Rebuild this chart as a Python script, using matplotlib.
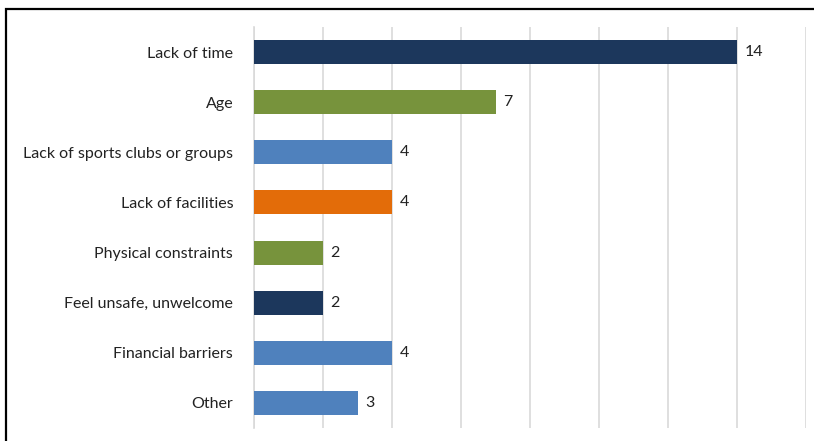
import matplotlib
matplotlib.use("Agg")
import matplotlib.pyplot as plt
from matplotlib.patches import Rectangle

categories = [
    "Lack of time",
    "Age",
    "Lack of sports clubs or groups",
    "Lack of facilities",
    "Physical constraints",
    "Feel unsafe, unwelcome",
    "Financial barriers",
    "Other",
]
values = [14, 7, 4, 4, 2, 2, 4, 3]
bar_colors = ["#1c375c", "#77933c", "#4f81bd", "#e36c09",
              "#77933c", "#1c375c", "#4f81bd", "#4f81bd"]

plt.rcParams["font.family"] = ["Lato", "DejaVu Sans"]

fig = plt.figure(figsize=(8.14, 4.41), dpi=100)
ax = fig.add_axes([254 / 814, 1 - 428 / 441, (806 - 254) / 814, (428 - 27) / 441])

y = list(range(len(categories)))
ax.barh(y, values, height=0.48, color=bar_colors, zorder=3)
for yi, v in zip(y, values):
    ax.annotate(str(v), (v, yi), xytext=(5.5, 0), textcoords="offset points",
                va="center", ha="left", fontsize=11.5, color="#222222")

ax.set_xlim(0, 16)
ax.set_ylim(len(categories) - 0.5, -0.5)
ax.set_xticks(range(0, 17, 2))
ax.set_xticklabels([])
ax.tick_params(axis="x", length=0)
ax.set_yticks(y)
ax.set_yticklabels(categories, fontsize=11.5, color="#222222")
ax.tick_params(axis="y", length=0, pad=15)
ax.grid(axis="x", color="#d9d9d9", linewidth=1.2, zorder=0)
for s in ["top", "right", "bottom"]:
    ax.spines[s].set_visible(False)
ax.spines["left"].set_color("#d9d9d9")
ax.spines["left"].set_linewidth(1.2)

# outer frame
fig.patches.append(Rectangle((5.5 / 814, -0.1), 1.2, 1.1 - 8.5 / 441,
                             transform=fig.transFigure, fill=False,
                             edgecolor="black", linewidth=1.6))

fig.savefig("out.png", dpi=100)
